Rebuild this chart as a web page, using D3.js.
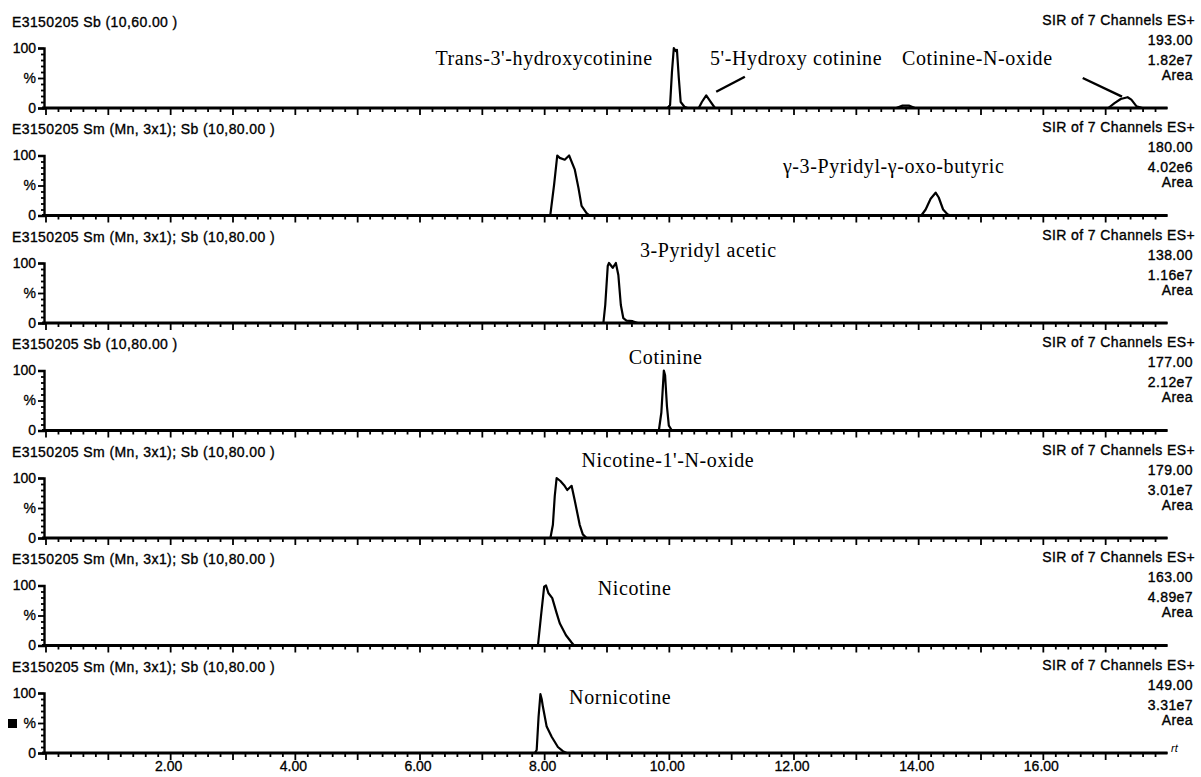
<!DOCTYPE html>
<html>
<head>
<meta charset="utf-8">
<script src="https://cdn.jsdelivr.net/npm/d3@7"></script>
<style>
  body { margin: 0; background: #fff; }
  svg { display: block; }
  .hdr { font-family: "Liberation Sans", Arial, sans-serif; font-size: 14px; letter-spacing: 0.4px; fill: #000; stroke: #000; stroke-width: 0.35px; }
  .ann { font-family: "Liberation Serif", "Times New Roman", serif; font-size: 20px; letter-spacing: 0.6px; fill: #000; }
  .axis text { font-family: "Liberation Sans", Arial, sans-serif; font-size: 14px; fill: #000; stroke: #000; stroke-width: 0.3px; }
</style>
</head>
<body>
<svg id="chart" width="1201" height="777"></svg>
<script>
// header texts
const titles = [
    "E3150205 Sb (10,60.00 )",
    "E3150205 Sm (Mn, 3x1); Sb (10,80.00 )",
    "E3150205 Sm (Mn, 3x1); Sb (10,80.00 )",
    "E3150205 Sb (10,80.00 )",
    "E3150205 Sm (Mn, 3x1); Sb (10,80.00 )",
    "E3150205 Sm (Mn, 3x1); Sb (10,80.00 )",
    "E3150205 Sm (Mn, 3x1); Sb (10,80.00 )"
]
const masses = ["193.00", "180.00", "138.00", "177.00", "179.00", "163.00", "149.00"]
const areas = ["1.82e7", "4.02e6", "1.16e7", "2.12e7", "3.01e7", "4.89e7", "3.31e7"]

// x tick labels (minutes)
const timeLabels = [2, 4, 6, 8, 10, 12, 14, 16]

// traces, [time (min), % of max]
const trace1 = [[0,0],[9.98,0],[10.02,5],[10.05,60],[10.08,100],[10.11,95],[10.13,97],[10.16,50],[10.19,10],[10.25,2],[10.3,0],
    [10.48,0],[10.53,10],[10.6,21],[10.66,12],[10.74,0],[13.65,0],[13.75,4],[13.85,4],[13.95,0],
    [17.05,0],[17.15,8],[17.25,15],[17.36,18],[17.42,14],[17.5,3],[17.6,0],[18,0]]
const trace2 = [[0,0],[8.08,0],[8.1,2],[8.16,52],[8.21,100],[8.25,96],[8.33,93],[8.4,100],[8.49,77],[8.55,46],[8.6,16],[8.68,4],[8.73,0],
    [14.05,0],[14.12,10],[14.2,28],[14.28,38],[14.33,30],[14.4,10],[14.47,2],[14.52,0],[18,0]]
const trace3 = [[0,0],[8.95,0],[8.98,30],[9.02,95],[9.04,100],[9.1,92],[9.15,100],[9.19,80],[9.23,30],[9.27,8],[9.32,4],[9.42,3],[9.5,0],[18,0]]
const trace4 = [[0,0],[9.84,0],[9.88,30],[9.92,100],[9.94,92],[9.97,40],[10.0,8],[10.05,0],[18,0]]
const trace5 = [[0,0],[8.1,0],[8.14,22],[8.17,70],[8.2,100],[8.26,95],[8.32,88],[8.37,80],[8.44,87],[8.49,63],[8.57,22],[8.62,6],[8.68,0],[18,0]]
const trace6 = [[0,0],[7.9,0],[7.95,50],[8.0,98],[8.03,100],[8.07,87],[8.13,79],[8.2,54],[8.25,37],[8.35,17],[8.44,5],[8.48,0],[18,0]]
const trace7 = [[0,0],[7.85,0],[7.88,5],[7.91,60],[7.94,98],[7.96,90],[7.98,77],[8.04,44],[8.12,27],[8.22,10],[8.3,3],[8.36,0],[18,0]]
const traces = [trace1, trace2, trace3, trace4, trace5, trace6, trace7]

// compound labels: panel, text, time, %, anchor
const labels = [
    [0, "Trans-3'-hydroxycotinine", 9.74, 83, "end"],
    [0, "5'-Hydroxy cotinine", 10.66, 83, "start"],
    [0, "Cotinine-N-oxide", 13.74, 83, "start"],
    [1, "\u03b3-3-Pyridyl-\u03b3-oxo-butyric", 11.83, 82, "start"],
    [2, "3-Pyridyl acetic", 11.73, 122, "end"],
    [3, "Cotinine", 9.95, 122, "middle"],
    [4, "Nicotine-1'-N-oxide", 8.6, 130, "start"],
    [5, "Nicotine", 8.86, 96, "start"],
    [6, "Nornicotine", 8.4, 93, "start"]
]
// pointer lines on top panel: [t1, %1, t2, %2]
const pointers = [
    [11.22, 52, 10.76, 27],
    [16.64, 50, 17.27, 19]
]

let svg = d3.select("#chart");

let x = d3.scaleLinear().domain([0, 18]).range([45.5, 1167.5]);
let top0 = 108, step = 107.5, plotH = 60;

let minorTicks = d3.range(0, 90).map(function(i) { return +(i * 0.2).toFixed(1); }).filter(function(v) { return v % 1 !== 0; });
let majorTicks = d3.range(0, 18);

traces.forEach(function(tr, i) {
    let base = top0 + i * step;
    let y = d3.scaleLinear().domain([0, 100]).range([base, base - plotH]);
    let g = svg.append("g").attr("class", "panel");

    // header left
    g.append("text").attr("class", "hdr")
        .attr("x", 12).attr("y", base - 86).attr("dy", "0.35em")
        .text(titles[i]);

    // header right
    let rt = ["SIR of 7 Channels ES+", masses[i], areas[i], "Area"];
    let offs = [88, 68, 48, 33];
    rt.forEach(function(s, k) {
        g.append("text").attr("class", "hdr")
            .attr("x", k === 0 ? 1195 : 1193).attr("y", base - offs[k]).attr("dy", "0.35em")
            .attr("text-anchor", "end")
            .text(s);
    });

    // y axis
    let yMinor = d3.axisLeft(y).tickValues([10, 20, 30, 40, 60, 70, 80, 90]).tickSize(3).tickFormat("");
    let yMajor = d3.axisLeft(y).tickValues([0, 50, 100]).tickSize(6).tickPadding(2)
        .tickFormat(function(d) { return d === 100 ? "100" : d === 50 ? "%" : "0"; });
    let yg1 = g.append("g").attr("class", "axis").attr("transform", "translate(44,0)").call(yMinor);
    let yg2 = g.append("g").attr("class", "axis").attr("transform", "translate(44,0)").call(yMajor);
    yg1.select(".domain").remove();
    yg2.select(".domain").attr("stroke-width", 2.4);
    [yg1, yg2].forEach(function(a) { a.selectAll(".tick line").attr("stroke-width", 1.8); });

    // x axis
    let xMinor = d3.axisBottom(x).tickValues(minorTicks).tickSize(4).tickFormat("").tickSizeOuter(0);
    let xMajor = d3.axisBottom(x).tickValues(majorTicks).tickSize(7).tickSizeOuter(0)
        .tickFormat(function(d) { return (i === 6 && timeLabels.includes(d)) ? d.toFixed(2) : ""; });
    let xg1 = g.append("g").attr("class", "axis").attr("transform", "translate(0," + base + ")").call(xMinor);
    let xg2 = g.append("g").attr("class", "axis").attr("transform", "translate(0," + base + ")").call(xMajor);
    xg1.select(".domain").remove();
    xg2.select(".domain").attr("stroke-width", 3).attr("d", "M42,0H" + x(18));
    [xg1, xg2].forEach(function(a) { a.selectAll(".tick line").attr("stroke-width", 1.8); });
    xg2.selectAll(".tick text").attr("y", 8).attr("dy", "0.71em").attr("font-size", 13).attr("dx", -2);

    // trace
    let line = d3.line()
        .x(function(d) { return x(d[0]); })
        .y(function(d) { return y(d[1]); });
    g.append("path").datum(tr)
        .attr("d", line)
        .attr("fill", "none")
        .attr("stroke", "#000")
        .attr("stroke-width", 2.2)
        .attr("stroke-linejoin", "round");

    // compound labels
    labels.filter(function(l) { return l[0] === i; }).forEach(function(l) {
        g.append("text").attr("class", "ann")
            .attr("x", x(l[2])).attr("y", y(l[3])).attr("dy", "0.35em")
            .attr("text-anchor", l[4])
            .text(l[1]);
    });

    if (i === 0) {
        pointers.forEach(function(p) {
            g.append("line")
                .attr("x1", x(p[0])).attr("y1", y(p[1]))
                .attr("x2", x(p[2])).attr("y2", y(p[3]))
                .attr("stroke", "#000").attr("stroke-width", 2.4);
        });
    }
    if (i === 6) {
        g.append("rect").attr("x", 8).attr("y", y(50) - 4).attr("width", 9).attr("height", 9).attr("fill", "#000");
        g.append("text")
            .attr("x", 1171).attr("y", base - 1)
            .attr("font-family", "Liberation Sans, Arial, sans-serif")
            .attr("font-size", 11).attr("font-style", "italic")
            .text("rt");
    }
});
</script>
</body>
</html>
